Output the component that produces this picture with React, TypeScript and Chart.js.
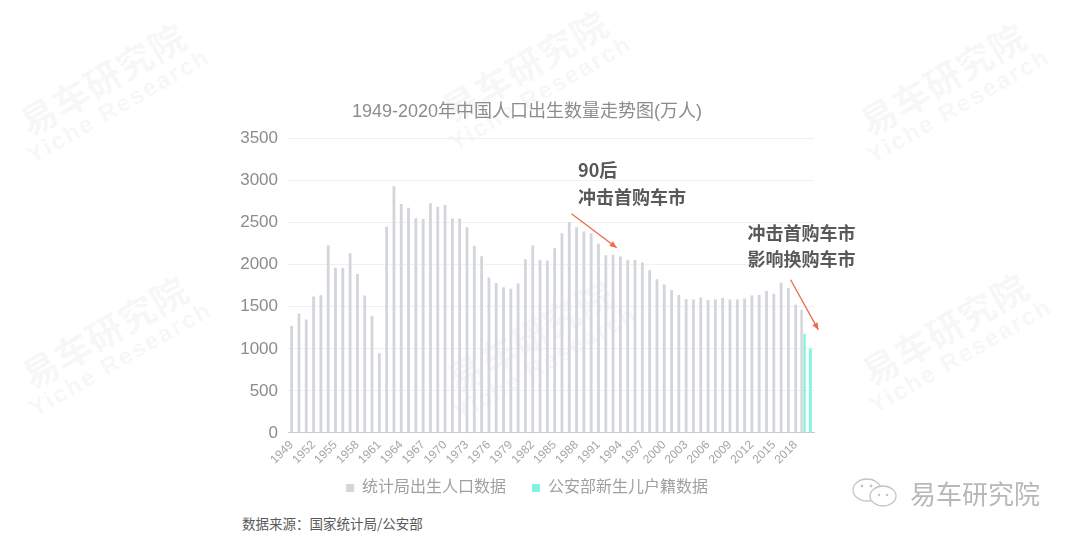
import React, { useEffect, useRef } from "react";
import { Chart, registerables } from "chart.js";

Chart.register(...registerables);

const years: string[] = [];
for (let y = 1949; y <= 2020; y++) years.push(String(y));

const nbsBirths: (number | null)[] = [
  1275, 1419, 1349, 1622, 1637, 2232, 1965, 1961, 2138, 1889,
  1635, 1389, 949, 2451, 2934, 2721, 2679, 2554, 2543, 2731,
  2690, 2710, 2551, 2550, 2447, 2226, 2102, 1849, 1783, 1733,
  1715, 1776, 2064, 2230, 2052, 2050, 2196, 2374, 2508, 2445,
  2396, 2374, 2250, 2113, 2120, 2098, 2052, 2057, 2028, 1934,
  1827, 1765, 1696, 1641, 1594, 1588, 1612, 1581, 1591, 1604,
  1587, 1588, 1600, 1635, 1640, 1687, 1655, 1786, 1723, 1523,
  1465, null,
];

const policeBirths: (number | null)[] = years.map((y) =>
  y === "2019" ? 1179 : y === "2020" ? 1003.5 : null
);

const yTicks = [0, 500, 1000, 1500, 2000, 2500, 3000, 3500];

const titleText = "1949-2020年中国人口出生数量走势图(万人)";
const seriesNames = ["统计局出生人口数据", "公安部新生儿户籍数据"];

// annotations: [year (fractional), value]
const noteLines1 = ["90后", "冲击首购车市"];
const noteAnchor1: [number, number][] = [[1988.2, 3119], [1988.2, 2798]];
const arrow1: [number, number][] = [[1987.3, 2607], [1993.5, 2202]];
const noteLines2 = ["冲击首购车市", "影响换购车市"];
const noteAnchor2: [number, number][] = [[2011.4, 2381], [2011.4, 2071]];
const arrow2: [number, number][] = [[2017.3, 1821], [2021.1, 1226]];

const FONT = "'Liberation Sans', 'Noto Sans CJK SC', sans-serif";
const CJK = "'Noto Sans CJK SC', 'Liberation Sans', sans-serif";

const annotationPlugin = {
  id: "notes",
  afterDraw(chart: any) {
    const ctx = chart.ctx;
    const xs = chart.scales.x;
    const ys = chart.scales.y;
    const px = (yr: number) => xs.getPixelForValue(yr - 1949);
    const py = (v: number) => ys.getPixelForValue(v);
    ctx.save();
    ctx.fillStyle = "#595959";
    ctx.font = `bold 18px ${CJK}`;
    ctx.textBaseline = "middle";
    ctx.textAlign = "left";
    noteLines1.forEach((t, i) => ctx.fillText(t, px(noteAnchor1[i][0]), py(noteAnchor1[i][1])));
    noteLines2.forEach((t, i) => ctx.fillText(t, px(noteAnchor2[i][0]), py(noteAnchor2[i][1])));
    const drawArrow = (a: [number, number][]) => {
      const x1 = px(a[0][0]), y1 = py(a[0][1]);
      const x2 = px(a[1][0]), y2 = py(a[1][1]);
      ctx.strokeStyle = "#f06a45";
      ctx.fillStyle = "#f06a45";
      ctx.lineWidth = 1.3;
      ctx.beginPath();
      ctx.moveTo(x1, y1);
      ctx.lineTo(x2, y2);
      ctx.stroke();
      const ang = Math.atan2(y2 - y1, x2 - x1);
      const L = 7, W = 3;
      ctx.beginPath();
      ctx.moveTo(x2, y2);
      ctx.lineTo(x2 - L * Math.cos(ang) + W * Math.sin(ang), y2 - L * Math.sin(ang) - W * Math.cos(ang));
      ctx.lineTo(x2 - L * Math.cos(ang) - W * Math.sin(ang), y2 - L * Math.sin(ang) + W * Math.cos(ang));
      ctx.closePath();
      ctx.fill();
    };
    drawArrow(arrow1);
    drawArrow(arrow2);
    ctx.restore();
  },
};

const watermarks = [
  { x: 118, y: 105 },
  { x: 540, y: 92 },
  { x: 958, y: 105 },
  { x: 120, y: 358 },
  { x: 545, y: 362 },
  { x: 960, y: 355 },
];

function Watermark({ x, y }: { x: number; y: number }) {
  return (
    <div
      style={{
        position: "absolute",
        left: x - 110,
        top: y - 50,
        width: 220,
        height: 100,
        transform: "rotate(-30deg)",
        textAlign: "center",
        color: "rgba(0,0,0,0.05)",
        fontFamily: CJK,
        pointerEvents: "none",
        lineHeight: 1.05,
      }}
    >
      <div style={{ fontSize: 36, fontWeight: 700, letterSpacing: 1 }}>易车研究院</div>
      <div style={{ fontSize: 24, fontWeight: 700, fontFamily: FONT, letterSpacing: 2 }}>Yiche Research</div>
    </div>
  );
}

export default function App() {
  const ref = useRef<HTMLCanvasElement | null>(null);
  useEffect(() => {
    if (!ref.current) return;
    const chart = new Chart(ref.current, {
      type: "bar",
      data: {
        labels: years,
        datasets: [
          {
            label: seriesNames[0],
            data: nbsBirths,
            backgroundColor: "#d2d5da",
            skipNull: true,
            categoryPercentage: 0.8,
            barPercentage: 0.8,
            maxBarThickness: 2.8,
          } as any,
          {
            label: seriesNames[1],
            data: policeBirths,
            backgroundColor: "#7ff4df",
            skipNull: true,
            categoryPercentage: 0.8,
            barPercentage: 0.8,
            maxBarThickness: 2.8,
          } as any,
        ],
      },
      options: {
        animation: false,
        responsive: false,
        maintainAspectRatio: false,
        layout: { padding: { left: 10, right: 56, top: 0, bottom: 1 } },
        plugins: {
          tooltip: { enabled: false },
          title: {
            display: true,
            text: titleText,
            color: "#8c8c8c",
            font: { size: 18, family: FONT, weight: "normal" },
            padding: { top: 9, bottom: 16 },
          },
          legend: {
            position: "bottom",
            labels: {
              boxWidth: 8,
              boxHeight: 8,
              color: "#a0a0a0",
              font: { size: 16, family: FONT },
              padding: 8,
              generateLabels: (chart: any) => {
                const base = Chart.defaults.plugins.legend.labels.generateLabels(chart);
                return base.map((l: any, i: number) => ({
                  ...l,
                  text: i === 0 ? l.text + "    " : l.text,
                  lineWidth: 0,
                }));
              },
            },
          },
        },
        scales: {
          x: {
            grid: { display: false, drawTicks: false },
            border: { display: true, color: "#c8c8c8", dash: [2, 2] },
            ticks: {
              autoSkip: false,
              maxRotation: 45,
              minRotation: 45,
              color: "#a6a6a6",
              font: { size: 12, family: FONT },
              padding: 5,
              callback: (_v: any, i: number) => (i % 3 === 0 && i < 70 ? years[i] : ""),
            },
          },
          y: {
            min: 0,
            max: 3500,
            afterFit: (s: any) => {
              s.width = 48;
            },
            afterBuildTicks: (s: any) => {
              s.ticks = yTicks.map((v) => ({ value: v }));
            },
            grid: { color: "#f0f0f0", drawTicks: false },
            border: { display: false },
            ticks: {
              color: "#8c8c8c",
              font: { size: 17, family: FONT },
              padding: 10,
              callback: (v: any) => String(v),
            },
          },
        },
      },
      plugins: [annotationPlugin],
    });
    return () => chart.destroy();
  }, []);

  return (
    <div
      style={{
        position: "fixed",
        left: 0,
        top: 0,
        width: 1080,
        height: 540,
        background: "#fff",
        overflow: "hidden",
      }}
    >
      {watermarks.map((w, i) => (
        <Watermark key={i} x={w.x} y={w.y} />
      ))}
      <canvas
        ref={ref}
        width={640}
        height={415}
        style={{ position: "absolute", left: 230, top: 92, width: 640, height: 415 }}
      />
      <div
        style={{
          position: "absolute",
          left: 242,
          top: 513,
          fontSize: 13.5,
          color: "#595959",
          fontFamily: CJK,
        }}
      >
        数据来源：国家统计局/公安部
      </div>
      <div
        style={{
          position: "absolute",
          left: 850,
          top: 474,
          display: "flex",
          alignItems: "center",
          color: "#b8b8b8",
          fontFamily: CJK,
          fontSize: 26,
        }}
      >
        <svg width="56" height="32" viewBox="0 0 56 32">
          <ellipse cx="17" cy="13" rx="14" ry="11" fill="none" stroke="#c4c4c4" strokeWidth="1.3" />
          <ellipse cx="33" cy="19" rx="13" ry="10" fill="#fff" stroke="#c4c4c4" strokeWidth="1.3" />
          <circle cx="12" cy="9" r="1.4" fill="#c4c4c4" />
          <circle cx="21" cy="9" r="1.4" fill="#c4c4c4" />
          <circle cx="29" cy="18" r="1.2" fill="#c4c4c4" />
          <circle cx="37" cy="18" r="1.2" fill="#c4c4c4" />
        </svg>
        <span style={{ marginLeft: 4 }}>易车研究院</span>
      </div>
    </div>
  );
}
